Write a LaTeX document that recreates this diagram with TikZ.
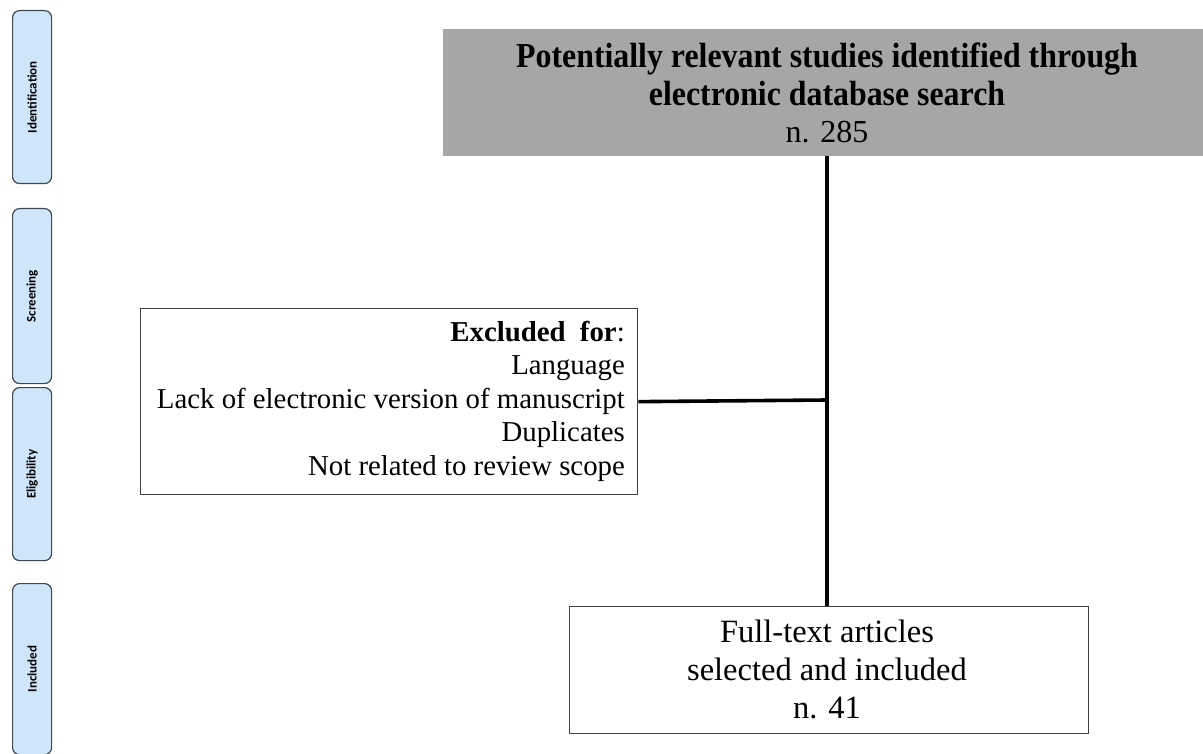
\documentclass[tikz,border=0pt]{standalone}
\usepackage{fontspec}
\setmainfont{Liberation Serif}
\newfontfamily\condfont[FakeStretch=0.91]{Liberation Serif}
\newfontfamily\labfont{Carlito}
\definecolor{sidefill}{HTML}{CFE6FA}
\definecolor{sidedraw}{HTML}{3E4852}
\definecolor{topgray}{HTML}{A6A6A6}
\definecolor{boxdraw}{HTML}{404040}
\begin{document}
\begin{tikzpicture}[x=1pt,y=-1pt,
  sidebox/.style={draw=sidedraw,fill=sidefill,line width=1.2pt,rounded corners=7pt,
    minimum width=39pt,anchor=north west,inner sep=0pt},
  sidelab/.style={rotate=90,font=\labfont\bfseries\fontsize{13}{15}\selectfont,inner sep=0pt},
  graybox/.style={fill=topgray,draw=none,anchor=north west,inner sep=0pt},
  whitebox/.style={draw=boxdraw,line width=1.3pt,fill=white,anchor=north west,inner sep=0pt},
  conn/.style={line width=3.6pt,draw=black}
]
\useasboundingbox (0,0) rectangle (1203,754);
% side stage labels
\node[sidebox,minimum height=173pt] (sid) at (12,10) {};
\node[sidelab] (sidt) at (sid.center) {Identification};
\node[sidebox,minimum height=175pt] (sscr) at (12,208) {};
\node[sidelab] (sscrt) at (sscr.center) {Screening};
\node[sidebox,minimum height=173pt] (selig) at (12,387) {};
\node[sidelab] (seligt) at (selig.center) {Eligibility};
\node[sidebox,minimum height=171pt] (sinc) at (12,583) {};
\node[sidelab] (sinct) at (sinc.center) {Included};
% top gray box
\node[graybox,minimum width=760pt,minimum height=127pt] (top) at (443,29) {};
\node[align=center,inner sep=0pt,font=\fontsize{32}{37.5}\selectfont] (toptext) at (827,93)
  {{\condfont\bfseries\fontsize{35}{37.5}\selectfont Potentially relevant studies identified through}\\
   {\condfont\bfseries\fontsize{35}{37.5}\selectfont electronic database search}\\ n. 285};
% excluded box
\node[whitebox,minimum width=497pt,minimum height=186pt] (excl) at (140,308) {};
\node[align=right,anchor=east,inner sep=0pt,font=\fontsize{28.8}{33.5}\selectfont] (excltext) at (625,401)
  {\textbf{Excluded\ \ for}:\\ Language\\ Lack of electronic version of manuscript\\ Duplicates\\ Not related to review scope};
% bottom box
\node[whitebox,minimum width=519pt,minimum height=127pt] (bot) at (569,606) {};
\node[align=center,inner sep=0pt,font=\fontsize{32.5}{38}\selectfont] (bottext) at (827,669)
  {Full-text articles\\ selected and included\\ n. 41};
% connectors
\coordinate (junc) at (827,400);
\draw[conn] (top.south -| junc) -- (bot.north -| junc);
\draw[conn] (excl.east) -- (junc);
\end{tikzpicture}
\end{document}
